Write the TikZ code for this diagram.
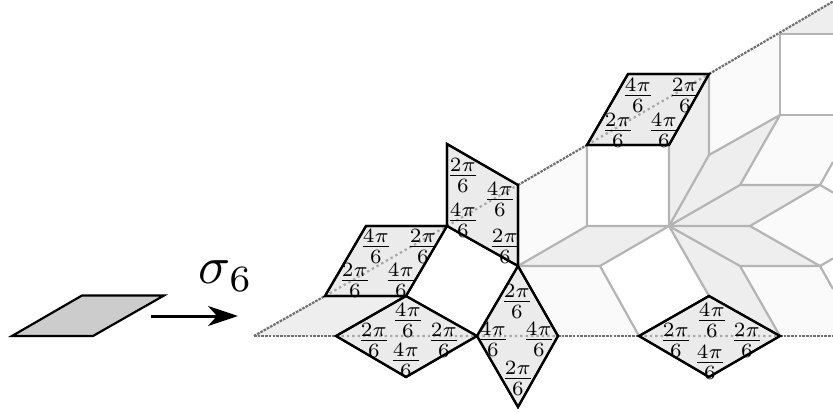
\documentclass[tikz,border=0pt]{standalone}
\usetikzlibrary{arrows.meta}
\definecolor{tilegray}{HTML}{B4B4B4}
\definecolor{lightfill}{HTML}{FAFAFA}
\definecolor{midfill}{HTML}{EEEEEE}
\definecolor{markfill}{HTML}{EBEBEB}
\definecolor{srcfill}{HTML}{CCCCCC}
\definecolor{edgegray}{HTML}{707070}
\definecolor{dotgray}{HTML}{A8A8A8}
\tikzset{
  lightcell/.style={fill=lightfill},
  midcell/.style={fill=midfill},
  tileline/.style={draw=tilegray,line width=2.2pt,line join=round},
  markedcell/.style={draw=black,fill=markfill,line width=2.2pt,line join=miter},
  wedgeedge/.style={draw=edgegray,line width=2.2pt,dash pattern=on 2.6pt off 1.1pt},
  dotline/.style={draw=dotgray,line width=2.2pt,dash pattern=on 2.4pt off 3pt},
  frac/.style={scale=2.9,inner sep=0pt,outer sep=0pt,yshift=-1.1pt,xshift=0.3pt},
}
\newcommand{\twopi}{$\frac{2\pi}{6}$}
\newcommand{\fourpi}{$\frac{4\pi}{6}$}
\begin{document}
\begin{tikzpicture}[x=1pt,y=-1pt]
\useasboundingbox (0,0) rectangle (833,412);
% vertices
\foreach \n/\x/\y in {
 O/254/336, A/325/296, B/406/296, C/336/336, D/447/226, E/366/226,
 F/477/336, G/406/377, H/447/144, I/518/185, J/518/266, K/558/336, L/518/407,
 M/587/145, N/628/74, P/709/74, Q/669/145, R/587/226, S/669/226, T/600/266,
 U/639/336, V/709/296, W/780/336, X/709/377, Y/709/155, Z/780/34,
 AA/780/115, AB/740/185, AC/820/185, AD/750/226, AE/740/266, AF/820/266}
 {\coordinate (\n) at (\x,\y);}
\coordinate (tr) at (833,1.5); \coordinate (trb) at (833,34); \coordinate (rb1) at (833,115);
\coordinate (rc1) at (833,162); \coordinate (rc2) at (833,192.5); \coordinate (rd1) at (833,258.5);
\coordinate (rd2) at (833,289); \coordinate (re) at (833,336);
% fills
\fill[midcell] (O)--(A)--(B)--(C)--cycle;
\fill[lightcell] (I)--(M)--(R)--(J)--cycle;
\fill[lightcell] (J)--(T)--(U)--(K)--cycle;
\fill[midcell] (J)--(R)--(S)--(T)--cycle;
\fill[midcell] (Q)--(P)--(Y)--(S)--cycle;
\fill[lightcell] (P)--(Z)--(AA)--(Y)--cycle;
\fill[midcell] (Y)--(AA)--(AB)--(S)--cycle;
\fill[midcell] (S)--(AB)--(AC)--(AD)--cycle;
\fill[midcell] (S)--(AD)--(AF)--(AE)--cycle;
\fill[midcell] (S)--(AE)--(W)--(V)--cycle;
\fill[midcell] (Z)--(tr)--(trb)--cycle;
\fill[lightcell] (AA)--(rb1)--(rc1)--(AC)--(AB)--cycle;
\fill[lightcell] (AD)--(AC)--(rc2)--(rd1)--(AF)--cycle;
\fill[lightcell] (AE)--(AF)--(rd2)--(re)--(W)--cycle;
% tile edges
\draw[tileline] (I)--(J) (M)--(R)--(J) (R)--(S)--(T)--(J) (T)--(U);
\draw[tileline] (Q)--(S) (P)--(Y)--(S) (Y)--(AA)--(AB)--(S) (AB)--(AC)--(AD)--(S);
\draw[tileline] (Z)--(AA)--(rb1) (Z)--(trb);
\draw[tileline] (AD)--(AF)--(AE)--(S) (AE)--(W) (S)--(V);
\draw[tileline] (AC)--(rc1) (AC)--(rc2) (AF)--(rd1) (AF)--(rd2);
% wedge boundary
\draw[wedgeedge] (O)--(C) (K)--(U) (W)--(re);
\draw[wedgeedge] (O)--(A) (I)--(M) (P)--(tr);
% marked rhombi
\path[markedcell] (A)--(E)--(D)--(B)--cycle;
\path[markedcell] (C)--(B)--(F)--(G)--cycle;
\path[markedcell] (H)--(I)--(J)--(D)--cycle;
\path[markedcell] (J)--(K)--(L)--(F)--cycle;
\path[markedcell] (M)--(N)--(P)--(Q)--cycle;
\path[markedcell] (U)--(V)--(W)--(X)--cycle;
\draw[dotline] (A)--(D) (D)--(I) (C)--(F) (F)--(K) (M)--(P) (U)--(W);
\path[draw=black,line width=2.2pt,line join=miter] (A)--(E)--(D)--(B)--cycle (C)--(B)--(F)--(G)--cycle (H)--(I)--(J)--(D)--cycle (J)--(K)--(L)--(F)--cycle (M)--(N)--(P)--(Q)--cycle (U)--(V)--(W)--(X)--cycle;
% labels
\node[frac] (a1) at (375,243) {\fourpi};
\node[frac] (a2) at (422,243) {\twopi};
\node[frac] (a3) at (354,277) {\twopi};
\node[frac] (a4) at (400,277) {\fourpi};
\node[frac] (b1) at (462,172) {\twopi};
\node[frac] (b2) at (499,196) {\fourpi};
\node[frac] (b3) at (462,217) {\fourpi};
\node[frac] (b4) at (504,243) {\twopi};
\node[frac] (c1) at (373,337) {\twopi};
\node[frac] (c2) at (407,317) {\fourpi};
\node[frac] (c3) at (443,337) {\twopi};
\node[frac] (c4) at (405,357) {\fourpi};
\node[frac] (d1) at (516,298) {\twopi};
\node[frac] (d2) at (492,336) {\fourpi};
\node[frac] (d3) at (538,336) {\fourpi};
\node[frac] (d4) at (517,375) {\twopi};
\node[frac] (e1) at (637,92) {\fourpi};
\node[frac] (e2) at (684,92) {\twopi};
\node[frac] (e3) at (617,127) {\twopi};
\node[frac] (e4) at (663,127) {\fourpi};
\node[frac] (f1) at (711,317) {\fourpi};
\node[frac] (f2) at (675,337) {\twopi};
\node[frac] (f3) at (746,337) {\twopi};
\node[frac] (f4) at (709,359) {\fourpi};
% source rhombus and arrow
\draw[draw=black,fill=srcfill,line width=2.2pt] (12,336)--(82,295.5)--(164,295.5)--(93,336)--cycle;
\coordinate (arrs) at (151,316); \coordinate (arre) at (238,316);
\draw[-{Stealth[length=30pt,width=20pt,inset=9pt]},line width=3pt] (arrs)--(arre);
\node[scale=5.3,inner sep=0pt] (sigma) at (226,276) {$\sigma_6$};
\end{tikzpicture}
\end{document}
